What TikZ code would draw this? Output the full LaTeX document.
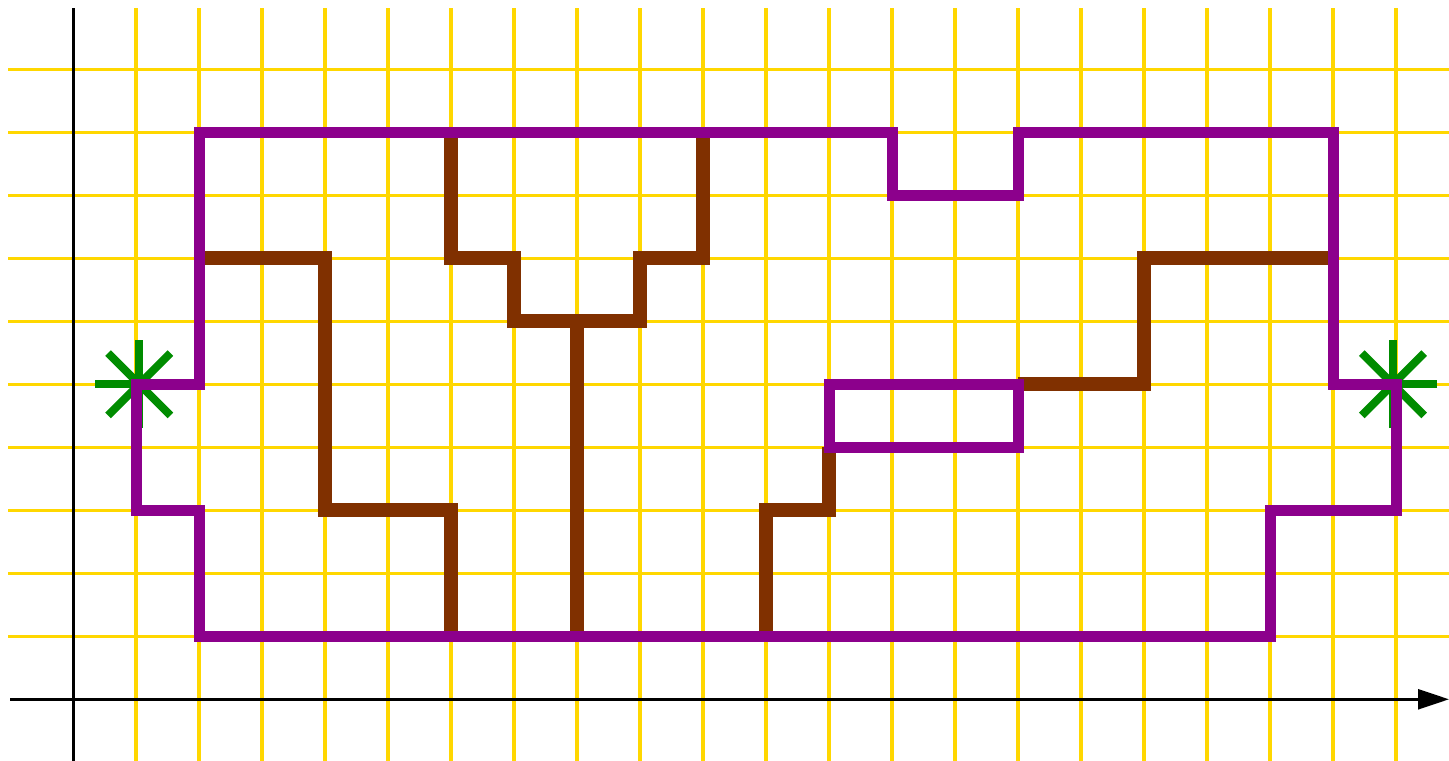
\documentclass[tikz,border=0pt]{standalone}
\usetikzlibrary{arrows.meta}
\definecolor{gridyellow}{RGB}{255,215,0}
\definecolor{wallpurple}{RGB}{140,0,140}
\definecolor{routebrown}{RGB}{128,48,0}
\definecolor{stargreen}{RGB}{0,140,0}
\begin{document}
\begin{tikzpicture}[x=1cm,y=1cm]
\useasboundingbox (-1.16,-0.97) rectangle (21.84,11.1);
\foreach \x in {1,...,21}\draw[gridyellow,line width=1.5pt] (\x,-1)--(\x,10.98);
\foreach \y in {1,...,10}\draw[gridyellow,line width=1.5pt] (-1.03,\y)--(22,\y);
\draw[line width=1.3pt] (0,-1)--(0,10.98);
\draw[line width=1.3pt,-{Triangle[length=14pt,width=9pt]}] (-1,0)--(21.84,0);
% start and goal
\foreach \c in {(1.05,5),(20.95,5)}\foreach \a in {0,45,90,135}\draw[stargreen,line width=3.6pt] \c ++(\a:0.7)--++(\a+180:1.4);
% inner routes
\begin{scope}[routebrown,line width=6.5pt]
\draw (2,7)-|(4,3)-|(6,1);
\draw (6,9)|-(7,7)|-(9,6)|-(10,7)--(10,9);
\draw (8,6)--(8,1);
\draw (11,1)|-(12,3)--(12,4);
\draw (15,5)-|(17,7)--(20,7);
\end{scope}
% walls
\begin{scope}[wallpurple,line width=5pt]
\draw (1,5)-|(2,9)-|(13,8)-|(15,9)-|(20,5)-|(21,3)-|(19,1)-|(2,3)--(1,3)--cycle;
\draw (12,4) rectangle (15,5);
\end{scope}
\end{tikzpicture}
\end{document}
